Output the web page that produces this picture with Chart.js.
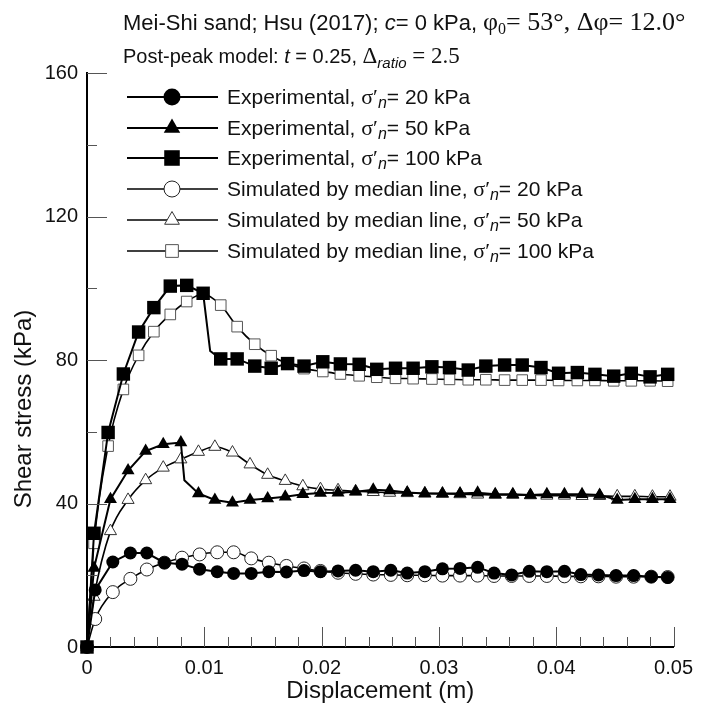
<!DOCTYPE html>
<html><head><meta charset="utf-8">
<script src="https://cdn.jsdelivr.net/npm/chart.js@4.4.0/dist/chart.umd.min.js"></script>
<style>html,body{margin:0;padding:0;background:#fff;}#wrap{width:702px;height:711px;}</style>
</head><body><div id="wrap"><canvas id="c" width="702" height="711"></canvas></div>
<script>
// ---------- data ----------
const xExp20 = [0, 0.0007, 0.0022, 0.0037, 0.0051, 0.0066, 0.0081, 0.0096, 0.0111, 0.0125, 0.0140, 0.0155, 0.0170, 0.0185, 0.0199, 0.0214, 0.0229, 0.0244, 0.0259, 0.0273, 0.0288, 0.0303, 0.0318, 0.0333, 0.0347, 0.0362, 0.0377, 0.0392, 0.0407, 0.0421, 0.0436, 0.0451, 0.0466, 0.0481, 0.0495];
const exp20 = [0, 15.9, 23.7, 26.2, 26.2, 23.5, 23.1, 21.7, 21.0, 20.5, 20.5, 21.0, 20.9, 21.3, 21.0, 21.2, 21.4, 21.0, 21.4, 20.6, 21.0, 21.8, 21.9, 22.2, 20.6, 20.1, 21.1, 21.0, 21.1, 20.2, 20.1, 19.9, 19.9, 19.6, 19.4];
const sim20 = [0, 7.8, 15.3, 19.0, 21.6, 23.5, 24.9, 25.8, 26.4, 26.4, 24.7, 23.5, 22.6, 21.9, 21.2, 20.7, 20.4, 20.2, 20.1, 20.0, 20.0, 19.9, 19.9, 19.9, 19.8, 19.8, 19.8, 19.8, 19.7, 19.7, 19.7, 19.6, 19.6, 19.6, 19.5];

const xExp50 = [0, 0.0006, 0.0020, 0.0035, 0.0050, 0.0065, 0.0080, 0.0095, 0.0109, 0.0124, 0.0139, 0.0154, 0.0169, 0.0184, 0.0199, 0.0214, 0.0229, 0.0244, 0.0258, 0.0273, 0.0288, 0.0303, 0.0318, 0.0333, 0.0348, 0.0363, 0.0378, 0.0392, 0.0407, 0.0422, 0.0437, 0.0452, 0.0467, 0.0482, 0.0497];
const exp50 = [0, 22, 41.2, 49.2, 54.6, 56.5, 57.0, 42.8, 41.0, 40.2, 41.0, 41.4, 41.9, 42.6, 42.9, 43.0, 43.3, 43.8, 43.6, 43.1, 42.8, 42.8, 42.8, 43.0, 42.6, 42.6, 42.4, 42.6, 42.6, 42.6, 42.4, 41.0, 41.2, 41.2, 41.2];
const sim50 = [0, 14, 32.3, 41.0, 46.5, 50.0, 52.3, 54.4, 55.8, 54.2, 50.9, 48.0, 46.3, 44.8, 44.0, 43.7, 43.4, 43.2, 43.0, 42.9, 42.8, 42.7, 42.6, 42.5, 42.4, 42.4, 42.3, 42.2, 42.2, 42.1, 42.1, 42.0, 42.0, 41.9, 41.9];
const kink50 = [[0.0083, 46.5]];

const xExp100 = [0, 0.0006, 0.0018, 0.0031, 0.0044, 0.0057, 0.0071, 0.0085, 0.0099, 0.0114, 0.0128, 0.0143, 0.0157, 0.0171, 0.0185, 0.0201, 0.0216, 0.0232, 0.0247, 0.0263, 0.0278, 0.0294, 0.0309, 0.0325, 0.0340, 0.0356, 0.0371, 0.0387, 0.0402, 0.0418, 0.0433, 0.0449, 0.0464, 0.0480, 0.0495];
const exp100 = [0, 31.7, 59.8, 76.1, 87.8, 94.6, 100.6, 100.8, 98.6, 80.3, 80.3, 78.3, 77.7, 79.0, 78.3, 79.5, 78.9, 78.8, 77.4, 77.7, 77.7, 78.1, 77.9, 77.2, 78.3, 78.6, 78.6, 77.9, 76.3, 76.5, 76.0, 75.5, 76.3, 75.3, 76.0];
const sim100 = [0, 28.9, 56.0, 71.8, 81.3, 87.9, 92.7, 96.3, 98.4, 95.3, 89.3, 84.4, 81.2, 79.0, 77.6, 76.8, 76.1, 75.6, 75.2, 74.9, 74.8, 74.7, 74.6, 74.5, 74.5, 74.4, 74.4, 74.4, 74.3, 74.3, 74.3, 74.2, 74.2, 74.2, 74.1];
const kink100 = [[0.0105, 82.5]];

const xTicks = [0, 0.01, 0.02, 0.03, 0.04, 0.05];
const yTicks = [0, 40, 80, 120, 160];
const legendNames = ['Experimental, ', 'Experimental, ', 'Experimental, ', 'Simulated by median line, ', 'Simulated by median line, ', 'Simulated by median line, '];
const legendLoads = ['= 20 kPa', '= 50 kPa', '= 100 kPa', '= 20 kPa', '= 50 kPa', '= 100 kPa'];

// ---------- helpers ----------
const SANS = '"Liberation Sans", Arial, sans-serif';
const SERIF = '"Liberation Serif", "Times New Roman", serif';
function pts(xs, ys, kinks) {
  const a = xs.map((x, i) => ({x: x, y: ys[i]}));
  (kinks || []).forEach(k => a.push({x: k[0], y: k[1], k: true}));
  a.sort((p, q) => p.x - q.x);
  return a;
}
function rad(r) { return ctx => (ctx.raw && ctx.raw.k) ? 0 : r; }

const styles = [
  {style: 'circle', fill: '#000', border: '#000', r: 6.5, lr: 8.5, open: false},
  {style: 'triangle', fill: '#000', border: '#000', r: 7.5, lr: 9.5, open: false},
  {style: 'rect', fill: '#000', border: '#000', r: 9.5, lr: 11, open: false},
  {style: 'circle', fill: '#fff', border: '#222', r: 6.5, lr: 8, open: true},
  {style: 'triangle', fill: '#fff', border: '#333', r: 7, lr: 8.5, open: true},
  {style: 'rect', fill: '#fff', border: '#555', r: 7.5, lr: 9, open: true}
];

function ds(data, st, exp) {
  return {
    data: data, showLine: true, clip: false, fill: false,
    borderColor: '#000', borderWidth: exp ? 2 : 1.6,
    tension: exp ? 0 : 0.4, cubicInterpolationMode: exp ? 'default' : 'monotone',
    pointStyle: st.style, pointRadius: rad(st.r), pointHoverRadius: rad(st.r),
    pointBackgroundColor: st.fill, pointBorderColor: st.border,
    pointBorderWidth: st.open ? 1 : 0
  };
}

const datasets = [
  ds(pts(xExp20, exp20), styles[0], true),
  ds(pts(xExp50, exp50, kink50), styles[1], true),
  ds(pts(xExp100, exp100, kink100), styles[2], true),
  ds(pts(xExp20, sim20), styles[3], false),
  ds(pts(xExp50, sim50), styles[4], false),
  ds(pts(xExp100, sim100), styles[5], false)
];

function drawRich(ctx, x, y, segs) {
  let cx = x;
  for (const s of segs) {
    ctx.font = s.f;
    ctx.fillText(s.t, cx, y + (s.dy || 0));
    cx += ctx.measureText(s.t).width;
  }
  return cx;
}

const decor = {
  id: 'decor',
  afterDraw(chart) {
    const ctx = chart.ctx;
    const xs = chart.scales.x, ys = chart.scales.y;
    const ca = chart.chartArea;
    ctx.save();
    // inward ticks
    ctx.strokeStyle = '#555';
    ctx.lineWidth = 1;
    ctx.beginPath();
    for (let i = 1; i <= 25; i++) {
      const v = i * 0.002;
      const px = Math.round(xs.getPixelForValue(v)) + 0.5;
      const len = (i % 5 === 0) ? 20 : 10;
      ctx.moveTo(px, ca.bottom);
      ctx.lineTo(px, ca.bottom - len);
    }
    for (let i = 1; i <= 8; i++) {
      const v = i * 20;
      const py = Math.round(ys.getPixelForValue(v)) + 0.5;
      const len = (i % 2 === 0) ? 20 : 10;
      ctx.moveTo(ca.left, py);
      ctx.lineTo(ca.left + len, py);
    }
    ctx.stroke();

    ctx.fillStyle = '#111';
    ctx.textBaseline = 'alphabetic';
    ctx.textAlign = 'left';
    // title lines
    drawRich(ctx, 123, 30, [
      {t: 'Mei-Shi sand; Hsu (2017); ', f: '22px ' + SANS},
      {t: 'c', f: 'italic 22px ' + SANS},
      {t: '= 0 kPa, ', f: '22px ' + SANS},
      {t: 'φ', f: '26px ' + SERIF},
      {t: '0', f: '16px ' + SERIF, dy: 4},
      {t: '= 53°, Δφ= 12.0°', f: '26px ' + SERIF}
    ]);
    drawRich(ctx, 123, 63, [
      {t: 'Post-peak model: ', f: '20px ' + SANS},
      {t: 't', f: 'italic 20px ' + SANS},
      {t: ' = 0.25, ', f: '20px ' + SANS},
      {t: 'Δ', f: '23px ' + SERIF},
      {t: 'ratio', f: 'italic 15px ' + SANS, dy: 5},
      {t: ' = 2.5', f: '23px ' + SERIF}
    ]);
    // legend
    const rows = [97, 128, 158, 189, 220, 251];
    rows.forEach((ry, i) => {
      const st = styles[i];
      ctx.strokeStyle = '#000';
      ctx.lineWidth = i < 3 ? 2 : 1.6;
      ctx.beginPath();
      ctx.moveTo(127, ry); ctx.lineTo(218, ry);
      ctx.stroke();
      ctx.fillStyle = st.fill;
      ctx.strokeStyle = st.border;
      ctx.lineWidth = 1;
      Chart.helpers.drawPoint(ctx, {pointStyle: st.style, radius: st.lr, rotation: 0, borderWidth: st.open ? 1 : 0}, 172, ry);
      ctx.fillStyle = '#111';
      drawRich(ctx, 227, ry + 7, [
        {t: legendNames[i], f: '21px ' + SANS},
        {t: 'σ′', f: '22px ' + SERIF},
        {t: 'n', f: 'italic 16px ' + SANS, dy: 4},
        {t: legendLoads[i], f: '21px ' + SANS}
      ]);
    });
    // axis titles
    ctx.fillStyle = '#111';
    ctx.font = '24px ' + SANS;
    ctx.textAlign = 'center';
    ctx.textBaseline = 'middle';
    ctx.fillText('Displacement (m)', (ca.left + ca.right) / 2, 691);
    ctx.save();
    ctx.translate(24, 409);
    ctx.rotate(-Math.PI / 2);
    ctx.fillText('Shear stress (kPa)', 0, 0);
    ctx.restore();
    ctx.restore();
  }
};

new Chart(document.getElementById('c'), {
  type: 'line',
  data: {datasets: datasets},
  options: {
    responsive: false, animation: false, devicePixelRatio: 1,
    layout: {padding: {left: 0, right: 21, top: 73, bottom: 0}},
    plugins: {legend: {display: false}, tooltip: {enabled: false}},
    scales: {
      x: {
        type: 'linear', min: 0, max: 0.05,
        afterFit: s => { s.height = 64; },
        afterBuildTicks: s => { s.ticks = xTicks.map(v => ({value: v})); },
        grid: {display: false, drawTicks: false},
        border: {display: true, color: '#000', width: 2},
        ticks: {padding: 9, color: '#111', font: {family: SANS, size: 20},
          callback: v => v === 0 ? '0' : v.toFixed(2)}
      },
      y: {
        type: 'linear', min: 0, max: 160,
        afterFit: s => { s.width = 87; },
        afterBuildTicks: s => { s.ticks = yTicks.map(v => ({value: v})); },
        grid: {display: false, drawTicks: false},
        border: {display: true, color: '#000', width: 2},
        ticks: {padding: 9, color: '#111', font: {family: SANS, size: 20}}
      }
    }
  },
  plugins: [decor]
});
</script>
</body></html>
